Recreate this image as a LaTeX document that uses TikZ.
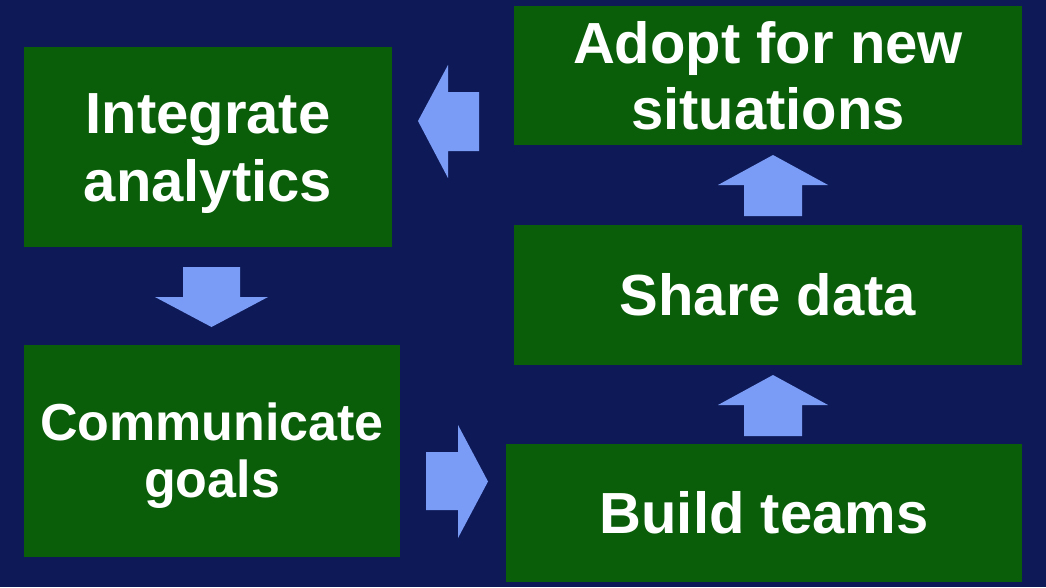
\documentclass[tikz,border=0pt]{standalone}
\usepackage{fontspec}
\setmainfont{Liberation Sans}
\definecolor{navy}{RGB}{14,26,88}
\definecolor{boxgreen}{RGB}{10,94,10}
\definecolor{arrowblue}{RGB}{123,156,246}
\begin{document}
\begin{tikzpicture}[x=1pt,y=-1pt,
  box/.style={rectangle, fill=boxgreen, draw=none, inner sep=0pt, outer sep=0pt},
  lbl/.style={text=white, font=\bfseries\fontsize{58}{68}\selectfont, inner sep=0pt, anchor=base},
  lblsmall/.style={lbl, font=\bfseries\fontsize{52}{58}\selectfont},
  blockarrow/.style={fill=arrowblue, draw=none}]
\useasboundingbox (0,0) rectangle (1046,587);
\fill[navy] (0,0) rectangle (1046,587);
% boxes
\node[box, minimum width=368pt, minimum height=200pt] (integ) at (208,147) {};
\node[box, minimum width=376pt, minimum height=212pt] (comm) at (212,451) {};
\node[box, minimum width=516pt, minimum height=138pt] (build) at (764,513) {};
\node[box, minimum width=508pt, minimum height=140pt] (share) at (768,295) {};
\node[box, minimum width=508pt, minimum height=139pt] (adopt) at (768,75.5) {};
% labels
\node[lbl] (integ-a) at (208,133) {Integrate};
\node[lbl] (integ-b) at (208,201) {analytics};
\node[lblsmall] (comm-a) at (212,440) {Communicate};
\node[lblsmall] (comm-b) at (212,497) {goals};
\node[lbl] (build-a) at (764,533.5) {Build teams};
\node[lbl] (share-a) at (768,315.5) {Share data};
\node[lbl] (adopt-a) at (768,63) {Adopt for new};
\node[lbl] (adopt-b) at (768,129) {situations};
% block arrows
\fill[blockarrow] (418,121) -- (448,65) -- (448,92) -- (479,92) -- (479,151) -- (448,151) -- (448,178) -- cycle;
\fill[blockarrow] (183,267) -- (240,267) -- (240,297) -- (268,297) -- (211.5,327) -- (155,297) -- (183,297) -- cycle;
\fill[blockarrow] (426,452) -- (458,452) -- (458,425) -- (488,481.5) -- (458,538) -- (458,510) -- (426,510) -- cycle;
\fill[blockarrow] (773,155) -- (828,185) -- (802,185) -- (802,216) -- (744,216) -- (744,185) -- (718,185) -- cycle;
\fill[blockarrow] (773,375) -- (828,405) -- (802,405) -- (802,436) -- (744,436) -- (744,405) -- (718,405) -- cycle;
\end{tikzpicture}
\end{document}
